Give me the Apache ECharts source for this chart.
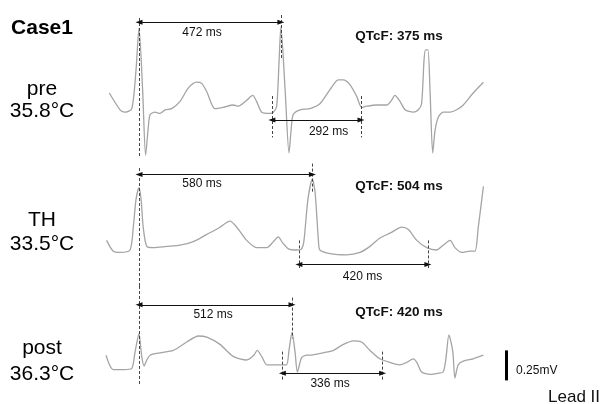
<!DOCTYPE html>
<html>
<head>
<meta charset="utf-8">
<script src="https://cdn.jsdelivr.net/npm/echarts@6/dist/echarts.min.js"></script>
<style>
html,body{margin:0;padding:0;background:#fff;}
#chart{width:602px;height:404px;}
</style>
</head>
<body>
<div id="chart"></div>
<script>
// ---- Data (time in ms, amplitude in mV) ----
const preTrace = [[11,0.15],[47,0.01],[63,-0.01],[86,0.02],[100,0.34],[110,0.69],[122,0.18],[132,-0.37],[140,-0.16],[147,-0.03],[163,-0.01],[180,-0.02],[197,0.01],[219,0.02],[247,0.08],[274,0.19],[302,0.24],[319,0.23],[336,0.16],[363,0.02],[391,0.03],[424,0.05],[441,0.04],[469,0.09],[489,0.13],[502,0.08],[519,-0.01],[547,-0.02],[558,-0.01],[569,0.04],[577,0.42],[583,0.70],[597,0.18],[610,-0.35],[617,-0.16],[624,-0.03],[647,0.01],[680,0.02],[713,0.06],[747,0.18],[774,0.26],[791,0.26],[813,0.22],[836,0.12],[852,0.03],[869,0.04],[902,0.05],[936,0.05],[952,0.09],[963,0.13],[980,0.08],[997,0.01],[1024,-0.01],[1041,0.01],[1052,0.06],[1060,0.42],[1065,0.51],[1073,0.51],[1080,0.18],[1089,-0.35],[1097,-0.16],[1108,-0.05],[1124,-0.01],[1147,-0.01],[1169,0.01],[1191,0.05],[1224,0.15],[1258,0.24]];
const thTrace = [[2,0.08],[24,-0.01],[47,-0.02],[80,0.00],[91,0.19],[100,0.42],[110,0.52],[117,0.42],[124,0.19],[136,0.03],[158,0.02],[202,0.03],[247,0.04],[291,0.07],[336,0.13],[380,0.19],[413,0.24],[436,0.19],[469,0.08],[502,0.02],[536,0.02],[558,0.07],[574,0.11],[589,0.06],[608,0.01],[636,0.00],[652,0.01],[660,0.08],[673,0.42],[688,0.59],[697,0.48],[708,0.08],[713,0.00],[747,-0.03],[802,-0.04],[847,-0.02],[880,0.03],[913,0.10],[947,0.14],[986,0.19],[1008,0.17],[1036,0.08],[1069,0.02],[1102,0.00],[1124,0.04],[1147,0.08],[1163,0.02],[1186,-0.02],[1213,-0.01],[1230,-0.01],[1241,0.19],[1258,0.53]];
const postTrace = [[0,0.09],[24,-0.03],[58,-0.03],[86,-0.02],[97,0.12],[110,0.27],[119,0.08],[127,0.00],[136,0.05],[147,0.09],[180,0.11],[224,0.13],[269,0.20],[308,0.25],[336,0.24],[380,0.18],[424,0.08],[469,0.05],[493,0.09],[504,0.13],[519,0.08],[536,0.01],[558,0.01],[586,0.01],[602,0.01],[610,0.13],[620,0.28],[630,0.12],[638,-0.05],[652,0.07],[669,0.09],[680,0.09],[724,0.11],[758,0.13],[791,0.18],[824,0.21],[852,0.20],[880,0.13],[913,0.06],[947,0.03],[980,0.01],[1002,0.03],[1024,0.06],[1036,0.03],[1052,-0.05],[1080,-0.07],[1108,-0.06],[1124,-0.05],[1133,0.06],[1143,0.26],[1156,0.12],[1163,-0.10],[1174,0.01],[1191,0.04],[1224,0.06],[1258,0.09]];

const conditions = ['pre', 'TH', 'post'];
const temperatures = ['35.8°C', '33.5°C', '36.3°C'];
const rPeaks = [[110, 583], [110, 688], [110, 620]];       // ms
const qtBounds = [[553, 850], [643, 1073], [588, 922]];    // ms
const rrLabels = ['472 ms', '580 ms', '512 ms'];
const qtLabels = ['292 ms', '420 ms', '336 ms'];
const qtcLabels = ['QTcF: 375 ms', 'QTcF: 504 ms', 'QTcF: 420 ms'];
const scaleBar = [0.13, -0.12];  // 0.25 mV calibration
const scaleBarTime = 1335;

// ---- Layout (positions / styling) ----
const FONT = '"Liberation Sans", Arial, Helvetica, sans-serif';
const traces = [preTrace, thTrace, postTrace];
const grids = [
  {left: 106, width: 420, top: 15, height: 150, ymin: -0.45, ymax: 0.8},
  {left: 106, width: 420, top: 160, height: 126, ymin: -0.3, ymax: 0.75},
  {left: 106, width: 420, top: 282, height: 108, ymin: -0.2, ymax: 0.7}
];
const ann = [
  {d1: [0.775, -0.39], d2: [0.80, 0.44], rrY: 0.74, rrLab: [320, 0.65], qtD: [0.125, -0.22], qtY: -0.075, qtLab: [742, -0.17], qtc: [977, 0.62]},
  {d1: [0.683, -0.30], d2: [0.72, 0.48], rrY: 0.63, rrLab: [320, 0.555], qtD: [0.08, -0.15], qtY: -0.12, qtLab: [855, -0.22], qtc: [977, 0.53]},
  {d1: [0.667, -0.158], d2: [0.57, 0.23], rrY: 0.51, rrLab: [357, 0.43], qtD: [0.12, -0.13], qtY: -0.06, qtLab: [747, -0.15], qtc: [977, 0.45]}
];
const labelY = [[89.7, 111.3], [220, 244.7], [348, 374.7]];

const dashStyle = {color: '#444', width: 1, type: [3, 2]};
const arrowStyle = {color: '#111', width: 1.1, type: 'solid'};
const AS = [5, 7];

const chart = echarts.init(document.getElementById('chart'), null, {renderer: 'canvas'});

const grid = [], xAxis = [], yAxis = [], series = [];
grids.forEach((g, i) => {
  grid.push({left: g.left, width: g.width, top: g.top, height: g.height, containLabel: false});
  xAxis.push({type: 'value', gridIndex: i, min: 0, max: 1400, show: false});
  yAxis.push({type: 'value', gridIndex: i, min: g.ymin, max: g.ymax, show: false});
  const a = ann[i];
  const r = rPeaks[i], q = qtBounds[i];
  const mlData = [
    [{coord: [r[0], a.d1[0]], lineStyle: dashStyle}, {coord: [r[0], a.d1[1]]}],
    [{coord: [r[1], a.d2[0]], lineStyle: dashStyle}, {coord: [r[1], a.d2[1]]}],
    [{coord: [q[0], a.qtD[0]], lineStyle: dashStyle}, {coord: [q[0], a.qtD[1]]}],
    [{coord: [q[1], a.qtD[0]], lineStyle: dashStyle}, {coord: [q[1], a.qtD[1]]}],
    [{coord: [r[0], a.rrY], symbol: 'triangle', symbolSize: AS, lineStyle: arrowStyle}, {coord: [r[1], a.rrY], symbol: 'triangle', symbolSize: AS}],
    [{coord: [q[0], a.qtY], symbol: 'triangle', symbolSize: AS, lineStyle: arrowStyle}, {coord: [q[1], a.qtY], symbol: 'triangle', symbolSize: AS}]
  ];
  if (i === 2) {
    mlData.push([{coord: [scaleBarTime, scaleBar[0]], lineStyle: {color: '#000', width: 3, type: 'solid'}}, {coord: [scaleBarTime, scaleBar[1]]}]);
  }
  series.push({
    type: 'line', xAxisIndex: i, yAxisIndex: i,
    data: traces[i], showSymbol: false, smooth: 0.25,
    lineStyle: {color: '#a4a4a4', width: 1.3},
    silent: true, animation: false,
    markLine: {silent: true, animation: false, symbol: ['none', 'none'], label: {show: false},
      emphasis: {disabled: true}, itemStyle: {color: '#111'}, data: mlData}
  });
  const txt = [
    {value: a.rrLab, name: rrLabels[i]},
    {value: a.qtLab, name: qtLabels[i]},
    {value: a.qtc, name: qtcLabels[i], label: {fontWeight: 'bold', fontSize: 13.5}}
  ];
  if (i === 2) {
    txt.push({value: [1367, -0.04], name: '0.25mV', label: {align: 'left'}});
  }
  series.push({
    type: 'scatter', xAxisIndex: i, yAxisIndex: i, symbolSize: 0, silent: true, animation: false,
    itemStyle: {opacity: 1},
    data: txt,
    label: {show: true, position: 'inside', formatter: '{b}', color: '#111', opacity: 1, fontSize: 12, fontFamily: FONT, align: 'center', verticalAlign: 'middle'}
  });
});

const graphic = [
  {type: 'text', x: 42, y: 28, style: {text: 'Case1', font: 'bold 21px ' + FONT, fill: '#000', textAlign: 'center', textVerticalAlign: 'middle'}},
  {type: 'text', x: 600, y: 397, style: {text: 'Lead II', font: '17px ' + FONT, fill: '#111', textAlign: 'right', textVerticalAlign: 'middle'}}
];
conditions.forEach((c, i) => {
  graphic.push({type: 'text', x: 42, y: labelY[i][0], style: {text: c, font: '21px ' + FONT, fill: '#000', textAlign: 'center', textVerticalAlign: 'middle'}});
  graphic.push({type: 'text', x: 42, y: labelY[i][1], style: {text: temperatures[i], font: '21px ' + FONT, fill: '#000', textAlign: 'center', textVerticalAlign: 'middle'}});
});

chart.setOption({animation: false, backgroundColor: '#fff', grid, xAxis, yAxis, series, graphic});
</script>
</body>
</html>
